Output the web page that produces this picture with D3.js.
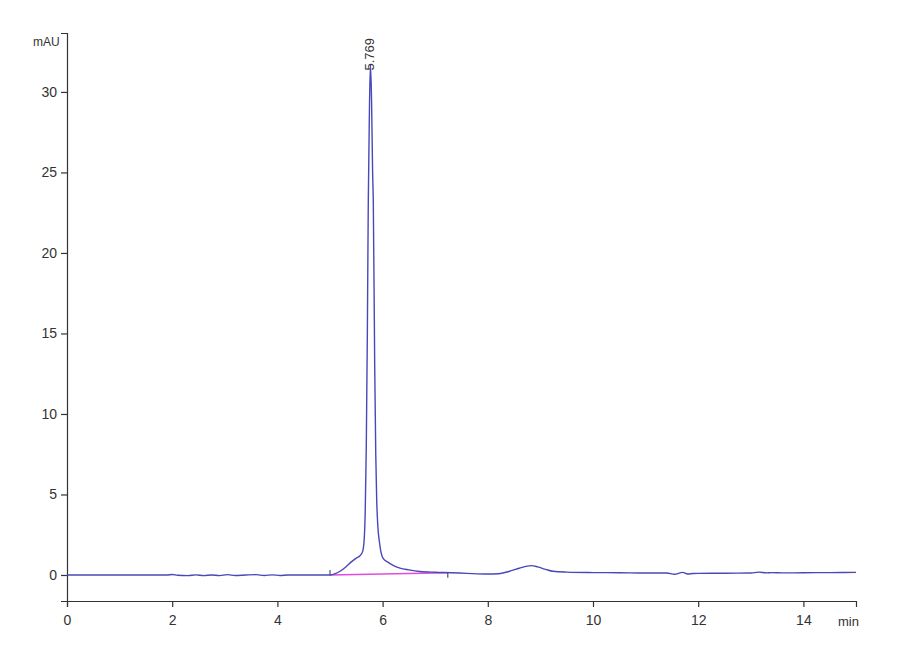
<!DOCTYPE html>
<html><head><meta charset="utf-8">
<script src="https://cdn.jsdelivr.net/npm/d3@7"></script>
<style>
html,body{margin:0;padding:0;background:#fff;}
svg text{font-family:"Liberation Sans Narrow","Arial Narrow","Liberation Sans",Arial,sans-serif;fill:#333;}
</style></head>
<body><svg id="c" width="900" height="660"></svg>
<script>
// Chromatogram signal (time in min, absorbance in mAU)
const times = [0,1.0,1.9,2.0,2.1,2.3,2.45,2.6,2.75,2.9,3.05,3.2,3.4,3.6,3.75,3.9,4.05,4.2,4.5,5.0,5.1,5.2,5.3,5.4,5.5,5.57,5.62,5.65,5.67,5.69,5.71,5.728,5.75,5.769,5.79,5.81,5.823,5.85,5.87,5.888,5.91,5.94,5.97,6.01,6.1,6.2,6.33,6.5,6.71,7.0,7.3,7.6,8.0,8.2,8.4,8.6,8.75,8.83,8.95,9.1,9.24,9.5,10.0,10.5,11.0,11.4,11.55,11.7,11.8,11.9,12.0,12.5,13.0,13.15,13.3,13.4,13.6,14.0,14.5,15.0];
const signal = [0,0,0,0.03,-0.02,-0.04,0.01,-0.04,0.0,-0.04,0.02,-0.03,0.0,0.02,-0.03,0.01,-0.03,0,0,0,0.08,0.25,0.5,0.8,1.05,1.2,1.45,2.2,4.0,8.0,15.0,23.2,29.0,31.7,29.5,25.0,23.2,13.0,7.5,4.65,3.0,2.05,1.4,1.03,0.8,0.6,0.43,0.32,0.22,0.17,0.14,0.1,0.06,0.08,0.22,0.42,0.55,0.58,0.5,0.35,0.23,0.18,0.15,0.14,0.12,0.12,0.05,0.16,0.06,0.09,0.1,0.11,0.12,0.18,0.13,0.15,0.13,0.14,0.15,0.16];
// Integration baseline
const baseT = [5.0, 7.24];
const baseV = [0.0, 0.14];
// Peak label
const peakTime = 5.769;
const peakValue = 31.7;
const peakLabel = "5.769";
// Ticks
const xMajor = [0,2,4,6,8,10,12,14];
const yMajor = [0,5,10,15,20,25,30];
const xMinor = d3.range(0, 15.01, 0.5);
const yMinor = d3.range(-1, 33.01, 1);

const svg = d3.select("#c");
const x = d3.scaleLinear().domain([0,15]).range([67,856]);
const y = d3.scaleLinear().domain([-1.615,33.66]).range([601,33]);

// axes
const gx = svg.append("g").attr("transform","translate(0,601)");
gx.call(d3.axisBottom(x).tickValues(xMinor).tickSize(4).tickFormat(""));
gx.call(d3.axisBottom(x).tickValues(xMajor).tickSize(6).tickPadding(8).tickFormat(d3.format("d")));
gx.selectAll("path").attr("stroke","#333").attr("stroke-width",1.2);
gx.selectAll("line").attr("stroke","#333").attr("stroke-width",1.2);
gx.selectAll("text").attr("font-size",14).attr("fill","#333").style("font-family",null);

const gy = svg.append("g").attr("transform","translate(67,0)");
gy.call(d3.axisLeft(y).tickValues(yMinor).tickSize(3).tickFormat(""));
gy.call(d3.axisLeft(y).tickValues(yMajor).tickSize(6).tickPadding(4).tickFormat(d3.format("d")));
gy.selectAll("path").attr("stroke","#333").attr("stroke-width",1.2);
gy.selectAll("line").attr("stroke","#333").attr("stroke-width",1.2);
gy.selectAll("text").attr("font-size",14).attr("fill","#333");

svg.append("text").attr("x",33).attr("y",46).attr("font-size",12).text("mAU");
svg.append("text").attr("x",838).attr("y",626).attr("font-size",13).text("min");

// baseline
svg.append("line").attr("x1",x(baseT[0])).attr("y1",y(baseV[0])).attr("x2",x(baseT[1])).attr("y2",y(baseV[1]))
  .attr("stroke","#e04ce0").attr("stroke-width",1.6);
svg.append("line").attr("x1",x(baseT[0])).attr("x2",x(baseT[0])).attr("y1",y(baseV[0])).attr("y2",y(baseV[0])-5).attr("stroke","#333").attr("stroke-width",1);
svg.append("line").attr("x1",x(baseT[1])).attr("x2",x(baseT[1])).attr("y1",y(baseV[1])).attr("y2",y(baseV[1])+5).attr("stroke","#333").attr("stroke-width",1);

// signal
const data = times.map((t,i)=>[t,signal[i]]);
svg.append("path").datum(data)
  .attr("d", d3.line().x(d=>x(d[0])).y(d=>y(d[1])).curve(d3.curveMonotoneX))
  .attr("fill","none").attr("stroke","#4848b8").attr("stroke-width",1.4);

// peak label
svg.append("text").attr("transform",`translate(${x(peakTime)+4},${y(peakValue)+6}) rotate(-90)`)
  .attr("font-size",13).attr("fill","#333").text(peakLabel);
</script></body></html>
